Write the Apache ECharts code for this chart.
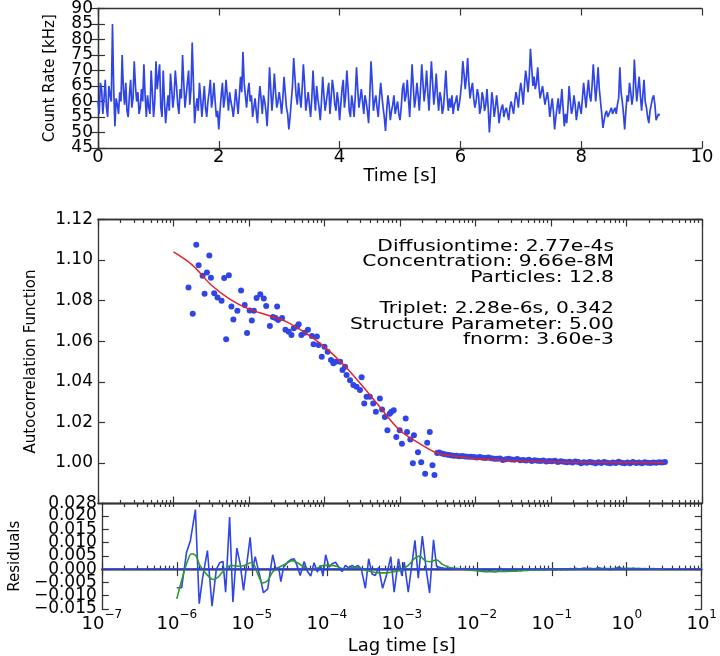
<!DOCTYPE html>
<html><head><meta charset="utf-8">
<script src="https://cdn.jsdelivr.net/npm/echarts@6/dist/echarts.min.js"></script>
<style>html,body{margin:0;padding:0;background:#fff}#c{width:720px;height:656px}</style>
</head><body><div id="c"></div>
<script>
// ---------- top panel: count rate trace ----------
const timeStep = 0.02; // s between samples
const countRate = [
60,56,66,64,56,61,67,58,55,65,62,60,85,64,52,61,59,56,63,60,75,64,59,66,57,55,62,67,58,61,73,65,60,63,56,58,64,60,72,62,55,62,58,56,70,63,55,60,73,64,
68,72,58,55,70,60,53,58,62,57,69,64,58,62,70,65,59,56,64,61,75,66,58,62,66,70,59,64,79,66,53,58,61,57,66,61,55,60,65,58,55,60,63,67,58,61,66,60,55,57,
51,57,62,66,58,61,67,62,57,63,60,58,55,59,64,60,56,62,68,63,76,66,62,58,63,66,60,62,55,58,61,57,53,60,65,61,56,62,60,57,52,60,71,64,57,62,69,63,58,60,
63,60,56,61,68,63,58,56,51,55,60,65,74,68,62,59,66,62,58,64,72,66,57,60,63,59,55,61,70,62,57,65,61,58,54,60,68,62,57,60,63,66,56,61,67,64,59,57,63,60,
54,59,64,67,58,62,70,64,57,55,62,59,55,62,71,64,58,61,64,60,56,62,60,57,53,62,73,66,57,60,62,58,55,61,66,62,58,55,50.5,57,62,59,54,57,59,62,56,58,60,56,
54,58,64,66,60,62,67,61,55,63,72,65,58,61,66,62,57,64,72,66,60,64,70,63,57,65,73,66,59,63,69,62,57,63,61,56,58,64,70,62,57,61,58,62,56,59,60,62,57,59,
62,66,73,69,64,68,74,66,61,64,66,61,58,60,64,62,56,58,63,61,57,59,64,58,50,56,63,60,55,58,62,58,53,56,58,59,55,57,58,56,54,58,60,58,56,60,63,61,58,63,
66,63,59,65,70,67,63,68,77,71,65,68,64,66,71,65,61,63,65,62,59,61,63,60,55,58,61,57,51,55,58,61,56,59,64,58,52,56,53,58,65,60,56,58,62,59,54,57,60,58,
56,61,66,62,58,63,67,62,60,65,72,72,60,65,71,64,60,56,51.5,54,56,57,55,56,57,58,56,57,58,56,59,61,71,63,60,56,51,57,62,60,66,63,59,62,73.5,66,60,64,68,62,
57,62,67,60,58,55,53,57,59,61,62,59,54,55,56,55.5];
const rateRange = [45, 90, 5];
const rateLabelsA = [45, 55, 65, 75, 85];
const rateLabelsB = [50, 60, 70, 80, 90];
const timeRange = [0, 10, 2];

// ---------- middle panel: autocorrelation ----------
const corrTau = [
1.58e-6,1.80e-6,2.00e-6,2.15e-6,2.43e-6,2.58e-6,2.77e-6,2.98e-6,3.13e-6,3.46e-6,
3.83e-6,4.33e-6,4.69e-6,4.98e-6,5.41e-6,5.85e-6,6.21e-6,7.01e-6,7.85e-6,8.77e-6,
9.42e-6,1.02e-5,1.09e-5,1.16e-5,1.26e-5,1.41e-5,1.57e-5,1.69e-5,1.89e-5,2.07e-5,
2.24e-5,2.36e-5,2.43e-5,2.74e-5,3.04e-5,3.36e-5,3.65e-5,3.91e-5,4.33e-5,4.55e-5,
4.94e-5,5.46e-5,6.03e-5,6.81e-5,7.16e-5,7.93e-5,8.34e-5,9.20e-5,1.00e-4,1.10e-4,
1.22e-4,1.31e-4,1.41e-4,1.61e-4,1.73e-4,1.87e-4,1.96e-4,2.18e-4,2.41e-4,2.66e-4,
2.95e-4,3.10e-4,3.36e-4,3.61e-4,3.99e-4,4.42e-4,4.79e-4,5.41e-4,5.79e-4,6.30e-4,
6.81e-4,7.31e-4,7.69e-4,8.26e-4,8.93e-4,9.91e-4,1.06e-3,1.19e-3,1.24e-3,1.37e-3,
1.48e-3,1.53e-3,1.73e-3,1.91e-3,2.15e-3,2.29e-3,2.48e-3,2.69e-3,2.86e-3,3.10e-3];
const corrG = [
1.0865,1.0736,1.1076,1.0974,1.0923,1.0834,1.0939,1.1022,1.0913,1.0837,
1.0816,1.0799,1.0912,1.0610,1.0925,1.0771,1.0707,1.0750,1.0850,1.0779,
1.0640,1.0751,1.0702,1.0750,1.0813,1.0832,1.0810,1.0774,1.0675,1.0719,
1.0714,1.0771,1.0705,1.0714,1.0656,1.0647,1.0631,1.0664,1.0672,1.0684,
1.0631,1.0642,1.0656,1.0626,1.0585,1.0623,1.0581,1.0524,1.0573,1.0548,
1.0507,1.0491,1.0499,1.0499,1.0458,1.0474,1.0433,1.0408,1.0384,1.0375,
1.0359,1.0422,1.0293,1.0326,1.0326,1.0293,1.0252,1.0318,1.0263,1.0227,
1.0161,1.0243,1.0252,1.0260,1.0128,1.0161,1.0095,1.0219,1.0153,1.0115,
0.9999,1.0136,1.0053,1.0003,0.9947,1.0100,1.0153,0.9989,0.9940,1.0049];
const tailTau = [
3.3e-3,3.6e-3,3.9e-3,4.3e-3,4.7e-3,5.1e-3,5.6e-3,6.1e-3,6.7e-3,7.3e-3,
8.0e-3,8.7e-3,9.5e-3,1.04e-2,1.14e-2,1.24e-2,1.36e-2,1.48e-2,1.62e-2,1.77e-2,
1.93e-2,2.11e-2,2.30e-2,2.52e-2,2.75e-2,3.00e-2,3.28e-2,3.58e-2,3.91e-2,4.27e-2,
4.67e-2,5.10e-2,5.57e-2,6.08e-2,6.64e-2,7.26e-2,7.93e-2,8.66e-2,9.46e-2,0.103,
0.113,0.123,0.135,0.147,0.161,0.176,0.192,0.210,0.229,0.250,
0.273,0.298,0.326,0.356,0.389,0.425,0.464,0.507,0.553,0.604,
0.660,0.721,0.787,0.860,0.939,1.03,1.12,1.22,1.34,1.46,
1.60,1.74,1.90,2.08,2.27,2.48,2.71,2.96,3.23];
const tailG = [
1.0052,1.0046,1.0043,1.0040,1.0038,1.0036,1.0035,1.0033,1.0034,1.0032,
1.0030,1.0031,1.0029,1.0027,1.0029,1.0026,1.0024,1.0027,1.0023,1.0021,
1.0020,1.0022,1.0014,1.0018,1.0020,1.0017,1.0016,1.0019,1.0013,1.0015,
1.0012,1.0016,1.0010,1.0013,1.0011,1.0009,1.0012,1.0007,1.0010,1.0008,
1.0011,1.0005,1.0008,1.0006,1.0003,1.0006,1.0002,1.0007,1.0004,0.9999,
1.0003,1.0001,1.0005,1.0002,0.9998,1.0003,1.0000,1.0004,1.0001,0.9998,
1.0002,1.0000,1.0006,1.0001,0.9998,1.0002,0.9999,1.0004,1.0000,1.0002,
0.9999,1.0003,1.0001,1.0000,1.0002,1.0001,1.0003,1.0002,1.0004];
const fitTau = [1e-6,1.78e-6,3.16e-6,5.62e-6,1e-5,1.78e-5,3.16e-5,5.62e-5,1e-4,1.78e-4,3.16e-4,5.62e-4,1e-3,1.78e-3,3.16e-3,5.62e-3,1e-2,1.78e-2,3.16e-2,5.62e-2,0.1,0.178,0.316,0.562,1,1.78,3.16];
const fitG = [1.1040,1.0975,1.0877,1.0806,1.0758,1.0728,1.0695,1.0640,1.0572,1.0485,1.0380,1.0268,1.0160,1.0098,1.0048,1.0032,1.0022,1.0016,1.0011,1.0008,1.0006,1.0004,1.0003,1.0003,1.0002,1.0002,1.0002];
const corrRange = [0.98, 1.12, 0.02];
const corrLabels = [1.00, 1.02, 1.04, 1.06, 1.08, 1.10, 1.12];
const fitText = ['Diffusiontime: 2.77e-4s','Concentration: 9.66e-8M','Particles: 12.8','','Triplet: 2.28e-6s, 0.342','Structure Parameter: 5.00','fnorm: 3.60e-3'];

// ---------- bottom panel: residuals ----------
const resTauHead = [
1.0e-6,1.16e-6,1.35e-6,1.52e-6,1.77e-6,1.99e-6,2.20e-6,2.56e-6,2.95e-6,3.37e-6,
3.73e-6,4.13e-6,4.48e-6,5.06e-6,5.60e-6,6.32e-6,7.00e-6,7.76e-6,8.41e-6,9.51e-6,
1.03e-5,1.11e-5,1.29e-5,1.43e-5,1.63e-5,1.90e-5,2.10e-5,2.28e-5,2.44e-5,2.65e-5,
3.00e-5,3.32e-5,3.67e-5,3.98e-5,4.42e-5,4.99e-5,5.52e-5,6.11e-5,6.76e-5,7.48e-5,
8.28e-5,8.89e-5,9.66e-5,1.07e-4,1.18e-4,1.31e-4,1.45e-4,1.60e-4,1.77e-4,1.97e-4,
2.18e-4,2.36e-4,2.61e-4,2.89e-4,3.27e-4,3.62e-4,4.01e-4,4.44e-4,4.91e-4,5.55e-4,
6.32e-4,7.14e-4,7.91e-4,9.03e-4,1.00e-3,1.08e-3,1.22e-3,1.50e-3,1.66e-3,1.88e-3,
2.14e-3,2.35e-3,2.65e-3,2.91e-3];
const resValHead = [
-0.0070,-0.0070,0.0064,0.0108,0.0224,-0.0130,-0.0036,0.0070,-0.0139,0.0000,
0.0024,0.0029,-0.0087,0.0196,-0.0124,0.0079,0.0020,-0.0080,0.0000,0.0120,
0.0000,0.0047,-0.0030,-0.0089,-0.0074,0.0054,0.0000,0.0007,-0.0047,0.0007,
0.0026,0.0036,0.0039,0.0016,-0.0024,0.0029,-0.0009,-0.0026,0.0024,-0.0011,
0.0014,-0.0026,0.0054,0.0007,0.0020,0.0026,0.0007,-0.0009,0.0014,0.0004,
0.0014,0.0007,0.0014,0.0000,-0.0072,0.0039,-0.0018,-0.0024,0.0007,-0.0072,
-0.0018,0.0047,-0.0087,0.0039,-0.0024,0.0026,-0.0087,0.0108,-0.0034,0.0124,
-0.0010,-0.0090,0.0110,0.0010];
const resValTail = [
0.0006,0.0004,0.0003,0.0002,0.0003,0.0001,0.0002,0.0000,0.0002,-0.0001,
0.0000,-0.0002,0.0000,-0.0004,-0.0002,-0.0006,-0.0009,-0.0005,-0.0008,-0.0010,
-0.0007,0.0003,-0.0009,-0.0006,-0.0003,-0.0007,-0.0008,-0.0004,-0.0006,-0.0002,
-0.0005,-0.0001,-0.0003,0.0000,-0.0002,0.0001,-0.0003,0.0000,-0.0001,0.0002,
-0.0003,0.0001,-0.0002,0.0001,-0.0001,0.0002,0.0000,0.0003,-0.0001,0.0002,
0.0004,0.0001,0.0003,0.0000,0.0002,0.0005,0.0001,0.0003,0.0000,-0.0002,
0.0001,0.0003,0.0008,0.0002,-0.0001,0.0002,0.0000,0.0003,0.0001,0.0002,
-0.0001,0.0002,0.0000,0.0001,0.0002,0.0000,0.0001,-0.0001,0.0000];
const smoothTau = [1.0e-6,1.16e-6,1.35e-6,1.57e-6,1.79e-6,2.03e-6,2.48e-6,3.04e-6,3.55e-6,4.35e-6,5.32e-6,6.53e-6,8.00e-6,1.0e-5,1.20e-5,1.40e-5,1.63e-5,1.90e-5,2.32e-5,2.85e-5,3.42e-5,4.06e-5,4.99e-5,6.11e-5,7.48e-5,9.16e-5,1.12e-4,1.38e-4,1.69e-4,2.07e-4,2.54e-4,3.10e-4,3.81e-4,4.91e-4,6.32e-4,8.17e-4,1.0e-3,1.22e-3,1.50e-3,1.75e-3,2.04e-3,2.4e-3,2.9e-3,3.5e-3,4.5e-3,6e-3,8e-3,1.0e-2,1.4e-2,2.0e-2,3.0e-2,4.5e-2,7e-2,0.1,0.15,0.25,0.4,0.6,1.0,1.5,2.2,3.2];
const smoothVal = [-0.0112,-0.0043,0.0020,0.0058,0.0051,0.0014,-0.0018,-0.0039,-0.0030,-0.0002,0.0014,0.0011,0.0014,0.0026,-0.0018,-0.0052,-0.0043,-0.0011,0.0007,0.0020,0.0032,0.0024,0.0007,0.0000,0.0004,0.0014,0.0014,0.0010,0.0000,0.0005,0.0007,-0.0002,-0.0009,-0.0014,-0.0014,-0.0009,-0.0002,0.0014,0.0041,0.0049,0.0032,0.0028,0.0035,0.0018,0.0005,0.0001,-0.0003,-0.0006,-0.0010,-0.0009,-0.0008,-0.0005,-0.0002,0.0000,-0.0001,0.0001,0.0002,0.0002,0.0003,0.0002,0.0001,0.0000];
const residRange = [-0.015, 0.0247, 0.005];
const residTicks = [-0.015,-0.010,-0.005,0.000,0.005,0.010,0.015,0.020];
const residLabelsA = [-0.015,-0.005,0.005,0.015,0.0247];
const residLabelsB = [-0.010,0.000,0.010,0.020];
const residLabelText = {'-0.015':'\u22120.015','-0.01':'\u22120.010','-0.005':'\u22120.005','0':'0.000','0.005':'0.005','0.01':'0.010','0.015':'0.015','0.02':'0.020','0.0247':'0.028'};

// ---------- lag-time axis ticks ----------
const lagMajorTicks = [1e-7,1e-6,1e-5,1e-4,1e-3,1e-2,1e-1,1,10];
const lagTickExp = ['\u22127','\u22126','\u22125','\u22124','\u22123','\u22122','\u22121','0','1'];
const lagMinorTicks = [];
for (let d = 0; d < lagMajorTicks.length - 1; d++) for (let m = 2; m <= 9; m++) lagMinorTicks.push(+(m * lagMajorTicks[d]).toPrecision(3));

const FONT = 'DejaVu Sans';
const BLUE = '#2f45e6', RED = '#e2222c', GREEN = '#2e9a2e', AXC = '#333';
const FS = 18, FSY = 17;
const grids = [
  {left: 98, top: 5, width: 604, height: 143},
  {left: 98, top: 219.5, width: 604, height: 284},
  {left: 98, top: 503.5, width: 604, height: 106.3}
];
const axLine = {show: true, lineStyle: {color: AXC, width: 1.3}};
const noSplit = {show: false};
const tickStyle = {color: AXC, width: 1.2};

function valAxis(grid, pos, range, extra) {
  return Object.assign({type: 'value', gridIndex: grid, position: pos, min: range[0], max: range[1], interval: range[2],
    axisLine: axLine, splitLine: noSplit,
    axisTick: {show: true, inside: true, length: 7, lineStyle: tickStyle},
    axisLabel: {show: false}}, extra || {});
}
function logX(grid, pos, ticks, len, extra) {
  return Object.assign({type: 'log', logBase: 10, gridIndex: grid, position: pos, min: 1e-7, max: 10,
    axisLine: axLine, splitLine: noSplit, minorTick: {show: false},
    axisTick: {show: true, inside: true, length: len, customValues: ticks, lineStyle: tickStyle},
    axisLabel: {show: false}}, extra || {});
}
function yLabels(values, fmt) {
  return {show: true, fontFamily: FONT, fontSize: FSY, color: '#000', margin: 5, hideOverlap: false,
    showMinLabel: true, showMaxLabel: true, customValues: values, formatter: fmt};
}
// label-only companion axis (same grid, same scale) carrying every other tick label
function yLabelAxis(grid, range, values, fmt) {
  return {type: 'value', gridIndex: grid, position: 'left', offset: 0, min: range[0], max: range[1], interval: range[2],
    axisLine: {show: false}, axisTick: {show: false}, splitLine: noSplit, axisLabel: yLabels(values, fmt)};
}

const nameStyleX = {fontFamily: FONT, fontSize: FS, color: '#000'};
const nameStyleY = {fontFamily: FONT, fontSize: 15, color: '#000'};
const intFmt = v => String(Math.round(v));
const corrFmt = v => v.toFixed(2);
const residFmt = v => residLabelText[String(+v.toFixed(4))] || '';

const xAxes = [
  valAxis(0, 'bottom', timeRange, {axisLabel: {show: true, fontFamily: FONT, fontSize: FS, color: '#000', margin: 0,
      showMinLabel: true, showMaxLabel: true, hideOverlap: false},
    name: 'Time [s]', nameLocation: 'middle', nameGap: 18, nameTextStyle: nameStyleX}),
  valAxis(0, 'top', timeRange),
  logX(1, 'bottom', lagMajorTicks, 7),
  logX(1, 'top', lagMajorTicks, 7),
  logX(1, 'bottom', lagMinorTicks, 3.5),
  logX(1, 'top', lagMinorTicks, 3.5),
  logX(2, 'bottom', lagMajorTicks, 7, {
    axisLabel: {show: true, margin: 0, customValues: lagMajorTicks, hideOverlap: false,
      formatter: v => {
        const i = lagMajorTicks.findIndex(t => Math.abs(Math.log10(t) - Math.log10(v)) < 1e-6);
        return '{b|10}{s|' + (i >= 0 ? lagTickExp[i] : '') + '}';
      },
      rich: {
        b: {fontFamily: FONT, fontSize: FS, color: '#000', lineHeight: 24, verticalAlign: 'bottom'},
        s: {fontFamily: FONT, fontSize: 12, color: '#000', lineHeight: 24, verticalAlign: 'top'}
      }},
    name: 'Lag time [s]', nameLocation: 'middle', nameGap: 28, nameTextStyle: nameStyleX}),
  logX(2, 'top', lagMajorTicks, 7),
  logX(2, 'bottom', lagMinorTicks, 3.5),
  logX(2, 'top', lagMinorTicks, 3.5)
];

const yAxes = [
  valAxis(0, 'left', rateRange, {axisLabel: yLabels(rateLabelsA, intFmt),
    name: 'Count Rate [kHz]', nameLocation: 'middle', nameGap: 40, nameTextStyle: nameStyleY}),
  valAxis(0, 'right', rateRange),
  valAxis(1, 'left', corrRange, {axisLabel: yLabels(corrLabels, corrFmt),
    name: 'Autocorrelation Function', nameLocation: 'middle', nameGap: 59, nameTextStyle: nameStyleY}),
  valAxis(1, 'right', corrRange),
  valAxis(2, 'left', residRange, {axisLabel: yLabels(residLabelsA, residFmt),
    axisTick: {show: true, inside: true, length: 7, lineStyle: tickStyle, customValues: residTicks},
    name: 'Residuals', nameLocation: 'middle', nameGap: 77, nameTextStyle: nameStyleY}),
  valAxis(2, 'right', residRange, {
    axisTick: {show: true, inside: true, length: 7, lineStyle: tickStyle, customValues: residTicks}}),
  yLabelAxis(0, rateRange, rateLabelsB, intFmt),
  yLabelAxis(2, residRange, residLabelsB, residFmt)
];

const corrData = corrTau.map((t, i) => [t, corrG[i]]).concat(tailTau.map((t, i) => [t, tailG[i]]));
const residData = resTauHead.map((t, i) => [t, resValHead[i]]).concat(tailTau.map((t, i) => [t, resValTail[i]]));

const option = {
  animation: false,
  backgroundColor: '#fff',
  textStyle: {fontFamily: FONT},
  grid: grids,
  xAxis: xAxes,
  yAxis: yAxes,
  graphic: [{
    type: 'text', x: 614, y: 239, scaleX: 1.35, scaleY: 1, z: 10,
    style: {text: fitText.join('\n'), align: 'right', verticalAlign: 'top', font: '15px "DejaVu Sans"', lineHeight: 15.6, fill: '#000'}
  }],
  series: [
    {type: 'line', xAxisIndex: 0, yAxisIndex: 0, showSymbol: false, symbol: 'none',
      data: countRate.map((v, i) => [+(i * timeStep).toFixed(2), v]),
      lineStyle: {color: BLUE, width: 1.7}},
    {type: 'scatter', xAxisIndex: 2, yAxisIndex: 2, data: corrData, symbolSize: 6,
      itemStyle: {color: BLUE, opacity: 1}, z: 2},
    {type: 'line', xAxisIndex: 2, yAxisIndex: 2, data: fitTau.map((t, i) => [t, fitG[i]]), smooth: 0.35,
      symbol: 'none', lineStyle: {color: RED, width: 1.5}, z: 3},
    {type: 'line', xAxisIndex: 6, yAxisIndex: 4, data: residData, symbol: 'none',
      lineStyle: {color: BLUE, width: 1.6}, z: 2,
      markLine: {silent: true, symbol: 'none', label: {show: false},
        lineStyle: {color: BLUE, width: 1.5, type: 'solid'}, data: [{yAxis: 0}]}},
    {type: 'line', xAxisIndex: 6, yAxisIndex: 4, data: smoothTau.map((t, i) => [t, smoothVal[i]]), smooth: 0.3,
      symbol: 'none', lineStyle: {color: GREEN, width: 1.6}, z: 3}
  ]
};
const chart = echarts.init(document.getElementById('c'), null, {renderer: 'canvas'});
chart.setOption(option);
</script></body></html>
